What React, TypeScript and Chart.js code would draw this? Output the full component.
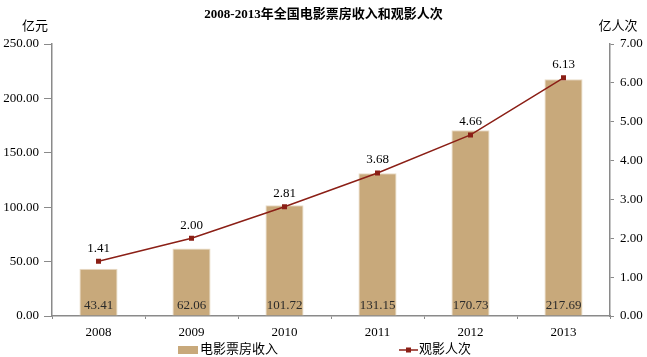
import React, { useEffect, useRef } from "react";
import { Chart, registerables } from "chart.js";

Chart.register(...registerables);

const years = ["2008", "2009", "2010", "2011", "2012", "2013"];
const boxOffice = [43.41, 62.06, 101.72, 131.15, 170.73, 217.69];
const audience = [1.41, 2.0, 2.81, 3.68, 4.66, 6.13];
const titleText = "2008-2013年全国电影票房收入和观影人次";
const leftUnit = "亿元";
const rightUnit = "亿人次";
const barLabel = "电影票房收入";
const lineLabel = "观影人次";

const BAR_COLOR = "#C8A97B";
const LINE_COLOR = "#8B1F16";
const AXIS_COLOR = "#8A8A8A";
const SERIF = "'Liberation Serif', 'Noto Sans CJK SC', serif";

const decorPlugin = {
  id: "decor",
  afterDatasetsDraw(chart: any) {
    const ctx = chart.ctx;
    ctx.save();
    const barMeta = chart.getDatasetMeta(0);
    ctx.fillStyle = "#2a2a2a";
    ctx.font = `13px ${SERIF}`;
    ctx.textAlign = "center";
    ctx.textBaseline = "middle";
    barMeta.data.forEach((el: any, i: number) => {
      ctx.fillText(boxOffice[i].toFixed(2), el.x, chart.chartArea.bottom - 10);
    });
    ctx.fillStyle = "#000";
    const lineMeta = chart.getDatasetMeta(1);
    lineMeta.data.forEach((el: any, i: number) => {
      ctx.fillText(audience[i].toFixed(2), el.x, el.y - 13);
    });
    ctx.restore();
  },
  afterDraw(chart: any) {
    const ctx = chart.ctx;
    const W = chart.width;
    ctx.save();
    ctx.fillStyle = "#000";
    ctx.textBaseline = "middle";
    ctx.textAlign = "center";
    ctx.font = `bold 13px ${SERIF}`;
    ctx.fillText(titleText, W / 2, 15);
    ctx.font = `13px ${SERIF}`;
    ctx.fillText(leftUnit, 35, 27);
    ctx.fillText(rightUnit, 618, 27);
    // legend
    const ly = 350;
    ctx.fillStyle = BAR_COLOR;
    ctx.fillRect(178, ly - 4, 20, 8);
    ctx.fillStyle = "#000";
    ctx.textAlign = "left";
    ctx.font = `13px ${SERIF}`;
    ctx.fillText(barLabel, 200, ly);
    ctx.strokeStyle = LINE_COLOR;
    ctx.lineWidth = 1.5;
    ctx.beginPath();
    ctx.moveTo(399, ly);
    ctx.lineTo(418, ly);
    ctx.stroke();
    ctx.fillStyle = LINE_COLOR;
    ctx.fillRect(406, ly - 2.5, 5, 5);
    ctx.fillStyle = "#000";
    ctx.fillText(lineLabel, 419, ly);
    ctx.restore();
  },
};

export default function App() {
  const ref = useRef<HTMLCanvasElement>(null);
  useEffect(() => {
    if (!ref.current) return;
    const chart = new Chart(ref.current, {
      type: "bar",
      data: {
        labels: years,
        datasets: [
          {
            type: "bar",
            label: barLabel,
            data: boxOffice,
            backgroundColor: BAR_COLOR,
            borderColor: "#E9DCC6",
            borderWidth: 1,
            yAxisID: "y",
            categoryPercentage: 1,
            barPercentage: 0.41,
            order: 2,
          },
          {
            type: "line",
            label: lineLabel,
            data: audience,
            borderColor: LINE_COLOR,
            backgroundColor: LINE_COLOR,
            borderWidth: 1.5,
            pointStyle: "rect",
            pointRadius: 2.5,
            tension: 0,
            yAxisID: "y1",
            order: 1,
          },
        ] as any,
      },
      options: {
        animation: false,
        responsive: false,
        layout: { padding: { top: 44, left: 0, right: 0, bottom: 0 } },
        plugins: { legend: { display: false }, tooltip: { enabled: false }, title: { display: false } },
        scales: {
          x: {
            offset: true,
            grid: { display: true, drawOnChartArea: false, drawTicks: true, tickLength: 3, offset: true, color: AXIS_COLOR },
            border: { color: AXIS_COLOR, width: 1.5 },
            ticks: { color: "#000", font: { family: SERIF, size: 13 }, padding: 6 },
            afterFit(s: any) { s.height = 41; },
          },
          y: {
            position: "left",
            min: 0,
            max: 250,
            ticks: { stepSize: 50, color: "#000", font: { family: SERIF, size: 13 }, padding: 5, callback: (v: any) => Number(v).toFixed(2) },
            grid: { drawOnChartArea: false, drawTicks: true, tickLength: 8, color: AXIS_COLOR },
            border: { color: AXIS_COLOR, width: 1.5 },
            afterFit(s: any) { s.width = 52; },
          },
          y1: {
            position: "right",
            min: 0,
            max: 7,
            ticks: { stepSize: 1, color: "#000", font: { family: SERIF, size: 13 }, padding: 6, callback: (v: any) => Number(v).toFixed(2) },
            grid: { drawOnChartArea: false, drawTicks: true, tickLength: 4, color: AXIS_COLOR },
            border: { color: AXIS_COLOR, width: 1.5 },
            afterFit(s: any) { s.width = 37; },
          },
        },
      } as any,
      plugins: [decorPlugin],
    });
    return () => chart.destroy();
  }, []);
  return (
    <div style={{ position: "fixed", left: 0, top: 0, width: 647, height: 357, background: "#fff" }}>
      <canvas ref={ref} width={647} height={357} style={{ width: 647, height: 357 }} />
    </div>
  );
}
